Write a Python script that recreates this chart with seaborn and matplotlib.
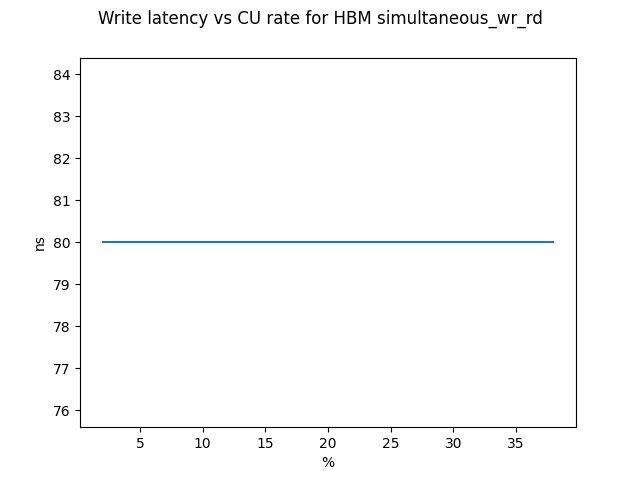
import matplotlib
matplotlib.use("Agg")
import matplotlib.pyplot as plt
import seaborn as sns

cu_rate = [2, 4, 6, 8, 10, 12, 14, 16, 18, 20, 22, 24, 26, 28, 30, 32, 34, 36, 38]
latency = [80] * len(cu_rate)

fig, ax = plt.subplots(figsize=(6.4, 4.8), dpi=100)
sns.lineplot(x=cu_rate, y=latency, ax=ax)
fig.suptitle("Write latency vs CU rate for HBM simultaneous_wr_rd")
ax.set_xlabel("%")
ax.set_ylabel("ns")
fig.savefig("out.png")
